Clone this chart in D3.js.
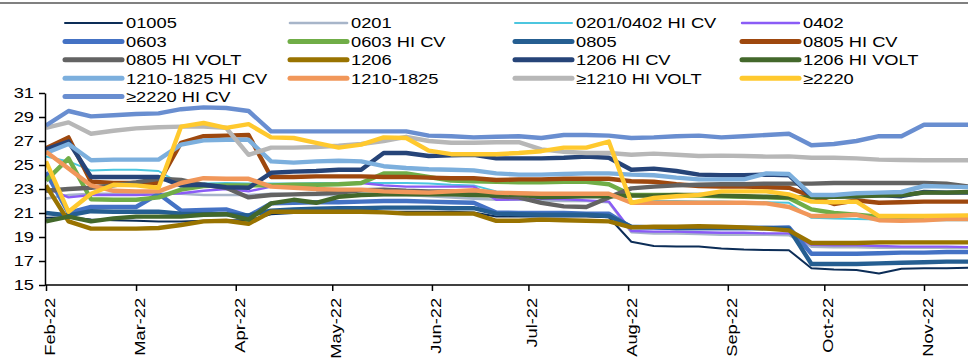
<!DOCTYPE html>
<html>
<head>
<meta charset="utf-8">
<script src="https://cdn.jsdelivr.net/npm/d3@7"></script>
<style>
  html, body { margin: 0; padding: 0; background: #fff; }
  svg { display: block; }
  text { font-family: "Liberation Sans", Arial, sans-serif; fill: #000; }
</style>
</head>
<body>
<svg id="chart" width="968" height="358"></svg>
<script>
// Weekly observation dates
const dates = [
  "2022-02-01","2022-02-08","2022-02-15","2022-02-22",
  "2022-03-01","2022-03-08","2022-03-15","2022-03-22","2022-03-29",
  "2022-04-05","2022-04-12","2022-04-19","2022-04-26",
  "2022-05-03","2022-05-10","2022-05-17","2022-05-24","2022-05-31",
  "2022-06-07","2022-06-14","2022-06-21","2022-06-28",
  "2022-07-05","2022-07-12","2022-07-19","2022-07-26",
  "2022-08-02","2022-08-09","2022-08-16","2022-08-23","2022-08-30",
  "2022-09-06","2022-09-13","2022-09-20","2022-09-27",
  "2022-10-04","2022-10-11","2022-10-18","2022-10-25",
  "2022-11-01","2022-11-08","2022-11-15"
];

// Month tick labels on the time axis
const monthTicks = ["2022-02-01","2022-03-01","2022-04-01","2022-05-01","2022-06-01",
  "2022-07-01","2022-08-01","2022-09-01","2022-10-01","2022-11-01"];

// Value axis ticks
const yTicks = [15, 17, 19, 21, 23, 25, 27, 29, 31];

// Series names, in legend order
const seriesNames = ["01005","0201","0201/0402 HI CV","0402","0603","0603 HI CV","0805","0805 HI CV",
  "0805 HI VOLT","1206","1206 HI CV","1206 HI VOLT","1210-1825 HI CV","1210-1825","≥1210 HI VOLT","≥2220","≥2220 HI CV"];

// Series values (one per week)
const s01005 = [20.6,20.65,20.45,20.4,20.35,20.3,20.3,20.35,20.4,20.4, 20.9,21.0,21.05,21.1,21.1,21.1,21.1,21.1,21.1,21.05, 20.7,20.7,20.7,20.7,20.7,20.65, 18.6,18.25,18.2,18.2,18.05,17.95,17.92,17.9, 16.4,16.3,16.25,15.95,16.35,16.4,16.4,16.45];
const s0201 = [22.2,22.5,22.6,22.6,22.6,22.6,22.6,22.5,22.5,22.5, 22.6,22.55,22.5,22.5,22.5,22.5,22.5,22.4,22.3,22.2, 22.1,22.1,22.05,22.0,22.0,21.9, 19.4,19.3,19.3,19.25,19.2,19.2,19.2,19.15, 18.2,18.15,18.15,18.1,18.1,18.1,18.1,18.1];
const s0201HiCv = [25.7,25.3,24.55,24.6,24.6,24.5,23.4,23.45,23.5,23.45, 23.45,23.45,23.5,23.5,23.5,23.5,23.5,23.45,23.35,23.3, 22.8,22.7,22.65,22.65,22.6,22.6, 22.0,22.0,22.0,21.95,21.95,21.9,21.9,21.85, 20.6,20.55,20.5,20.45,20.4,20.4,20.4,20.4];
const s0402 = [23.1,22.3,22.5,22.5,22.5,22.55,22.65,22.85,23.0,22.8, 23.2,23.3,23.35,23.4,23.5,23.3,23.2,23.2,23.2,23.2, 22.1,22.15,22.2,22.15,22.05,21.95, 19.5,19.45,19.45,19.4,19.35,19.35,19.3,19.3, 18.35,18.3,18.3,18.25,18.2,18.2,18.2,18.15];
const s0603 = [24.4,21.0,21.5,21.5,21.5,22.6,21.2,21.25,21.3,20.75, 21.8,21.85,21.9,21.9,21.95,22.0,22.0,21.95,21.9,21.85, 21.05,21.0,21.0,21.0,20.95,20.95, 19.8,19.8,19.75,19.75,19.75,19.75,19.75,19.8, 17.6,17.6,17.6,17.65,17.7,17.7,17.75,17.75];
const s0603HiCv = [23.7,25.55,22.15,22.1,22.1,22.3,22.95,23.25,23.3,23.3, 23.3,23.35,23.35,23.4,23.5,24.3,24.3,24.0,23.7,23.65, 23.6,23.55,23.55,23.6,23.6,23.4, 22.5,22.5,22.5,22.45,22.4,22.35,22.3,22.25, 21.3,21.0,20.85,20.7,20.65,20.65,20.6,20.6];
const s0805 = [21.0,20.8,21.15,21.1,21.1,21.1,20.95,20.9,20.9,20.8, 21.2,21.3,21.35,21.4,21.4,21.45,21.45,21.45,21.4,21.4, 20.95,20.9,20.85,20.85,20.85,20.75, 19.85,19.8,19.75,19.75,19.75,19.75,19.75,19.7, 16.75,16.75,16.75,16.8,16.85,16.9,16.95,16.95];
const s0805HiCv = [26.4,27.3,23.6,23.5,23.5,23.5,26.85,27.4,27.45,27.5, 24.0,24.0,24.05,24.05,24.05,24.0,24.0,23.95,23.9,23.9, 23.75,23.8,23.8,23.85,23.85,23.85, 23.65,23.6,23.4,23.25,23.2,23.2,23.15,23.1, 22.4,21.75,22.05,21.85,21.9,21.95,21.95,21.95];
const s0805HiVolt = [22.85,23.0,23.1,23.3,23.55,23.85,23.75,23.35,23.1,22.3, 22.5,22.55,22.6,22.7,22.9,22.95,22.85,22.8,22.8,22.75, 22.4,22.3,21.85,21.55,21.5,22.3, 23.05,23.2,23.3,23.35,23.4,23.4,23.45,23.45, 23.45,23.5,23.5,23.5,23.5,23.5,23.45,23.2];
const s1206 = [23.3,20.3,19.7,19.7,19.7,19.75,20.0,20.3,20.35,20.1, 21.1,21.1,21.1,21.1,21.1,21.05,20.95,20.95,20.95,20.95, 20.35,20.35,20.45,20.4,20.35,20.3, 19.8,19.85,19.85,19.9,19.85,19.8,19.7,19.55, 18.5,18.5,18.5,18.55,18.55,18.55,18.55,18.55];
const s1206HiCv = [26.3,26.95,24.0,24.0,24.0,24.0,23.3,23.35,23.15,23.1, 24.35,24.45,24.5,24.6,24.6,26.0,26.0,25.75,25.8,25.85, 25.55,25.55,25.55,25.6,25.7,25.6, 24.6,24.7,24.5,24.2,24.15,24.15,24.2,24.15, 22.4,22.4,22.4,22.5,22.4,22.75,22.7,22.7];
const s1206HiVolt = [20.3,20.7,20.3,20.55,20.7,20.7,20.7,20.85,20.9,20.45, 21.8,22.1,21.85,22.35,22.5,22.55,22.55,22.55,22.55,22.5, 22.45,22.55,22.3,22.35,22.4,22.4, 22.45,22.45,22.5,22.5,22.45,22.4,22.35,22.3, 22.3,22.35,22.4,22.45,22.5,22.7,22.7,22.75];
const s1210HiCv = [26.0,26.75,25.4,25.45,25.45,25.45,26.7,27.05,27.1,27.1, 25.3,25.2,25.3,25.35,25.3,24.9,24.75,24.65,24.6,24.55, 24.3,24.2,24.2,24.25,24.3,24.3, 24.2,24.15,23.95,23.8,23.8,23.8,24.3,24.25, 22.5,22.5,22.65,22.7,22.75,23.25,23.2,23.15];
const s1210 = [26.1,24.7,23.3,22.85,22.8,22.8,23.5,23.9,23.85,23.85, 23.2,23.1,23.0,22.95,22.95,22.8,22.75,22.7,22.8,22.9, 22.7,22.65,22.6,22.6,22.6,22.6, 21.85,21.85,21.85,21.85,21.85,21.85,21.8,21.5, 20.75,20.75,20.85,20.4,20.35,20.4,20.5,20.5];
const s1210HiVolt = [28.1,28.55,27.6,27.85,28.05,28.15,28.2,28.2,28.1,25.85, 26.45,26.45,26.5,26.6,26.75,27.0,27.35,27.0,26.85,26.85, 26.9,26.9,26.3,26.1,26.0,26.0, 25.85,25.95,25.85,25.75,25.78,25.75,25.7,25.72, 25.6,25.6,25.55,25.45,25.42,25.4,25.4,25.4];
const s2220 = [25.3,21.1,22.6,23.35,23.3,23.1,28.2,28.5,28.1,28.4, 27.3,27.25,26.85,26.45,26.7,27.3,27.25,26.2,25.9,25.9, 25.9,26.0,26.15,26.45,26.45,26.95, 21.85,22.25,22.4,22.5,22.8,22.8,22.8,22.55, 21.95,21.9,21.95,20.75,20.75,20.75,20.78,20.8];
const s2220HiCv = [28.3,29.5,29.05,29.15,29.25,29.3,29.65,29.8,29.75,29.5, 27.8,27.8,27.8,27.8,27.8,27.8,27.8,27.45,27.4,27.3, 27.35,27.4,27.25,27.5,27.5,27.45, 27.25,27.3,27.4,27.45,27.3,27.4,27.5,27.6, 26.65,26.75,27.0,27.4,27.4,28.35,28.35,28.35];

const seriesValues = [s01005, s0201, s0201HiCv, s0402, s0603, s0603HiCv, s0805, s0805HiCv,
  s0805HiVolt, s1206, s1206HiCv, s1206HiVolt, s1210HiCv, s1210, s1210HiVolt, s2220, s2220HiCv];

// Line styling per series
const colors = ["#0c2d57","#a7b5c9","#4cc6df","#8a5cf6","#4472c4","#70ad47","#255e91","#9e480e",
  "#636363","#997300","#264478","#43682b","#7cafdd","#f1975a","#b7b7b7","#ffc92e","#698ed0"];
const widths = [2, 2.6, 2, 2.4, 4.4, 4.4, 4.4, 4.4, 4.4, 4.4, 4.4, 4.4, 4.4, 4.4, 4.4, 4.4, 4.4];

const TEXT_STRETCH = 1.22;
const parse = d3.timeParse("%Y-%m-%d");
const svg = d3.select("#chart");

// Thin frame line along the top
svg.append("line").attr("x1", 0).attr("x2", 968).attr("y1", 3).attr("y2", 3)
  .attr("stroke", "#808080").attr("stroke-width", 2);

const x = d3.scaleTime()
  .domain([parse("2022-02-01"), parse("2022-11-01")])
  .range([46, 924]);
const y = d3.scaleLinear().domain([15, 31]).range([285, 93]);

// Plot area clip
svg.append("defs").append("clipPath").attr("id", "plotClip")
  .append("rect").attr("x", 45).attr("y", 60).attr("width", 923).attr("height", 240);

const line = d3.line()
  .x((d, i) => x(parse(dates[i])))
  .y(d => y(d));

const plot = svg.append("g").attr("clip-path", "url(#plotClip)");
seriesValues.forEach((vals, k) => {
  plot.append("path")
    .datum(vals)
    .attr("d", line)
    .attr("fill", "none")
    .attr("stroke", colors[k])
    .attr("stroke-width", widths[k])
    .attr("stroke-linejoin", "round")
    .attr("stroke-linecap", "butt");
});

// Y axis
const yAxis = svg.append("g").attr("transform", "translate(45,0)")
  .call(d3.axisLeft(y).tickValues(yTicks).tickSize(6).tickSizeOuter(0).tickPadding(3));
yAxis.select(".domain").attr("stroke", "#000").attr("stroke-width", 1.5);
yAxis.selectAll(".tick line").attr("stroke", "#000").attr("stroke-width", 1.5);
yAxis.selectAll(".tick text")
  .attr("font-size", 15)
  .attr("font-family", "Liberation Sans, Arial, sans-serif")
  .attr("fill", "#000")
  .attr("transform", `scale(${TEXT_STRETCH},1)`);

// X axis
const xAxis = svg.append("g").attr("transform", "translate(0,285)")
  .call(d3.axisBottom(x).tickValues(monthTicks.map(parse))
    .tickFormat(d3.timeFormat("%b-%y")).tickSize(6).tickSizeOuter(0));
xAxis.select(".domain").remove();
xAxis.append("line").attr("x1", 45).attr("x2", 968).attr("y1", 0).attr("y2", 0)
  .attr("stroke", "#000").attr("stroke-width", 1.6);
xAxis.selectAll(".tick line").attr("stroke", "#000").attr("stroke-width", 1.5);
xAxis.selectAll(".tick text")
  .attr("font-size", 15)
  .attr("font-family", "Liberation Sans, Arial, sans-serif")
  .attr("fill", "#000")
  .attr("text-anchor", "end")
  .attr("x", -10.5)
  .attr("y", 0)
  .attr("dy", "0.55em")
  .attr("transform", `rotate(-90) scale(${TEXT_STRETCH},1)`);

// Legend: four columns, rows filled left to right
const legendColLine = [65, 290, 515, 742];
const legendRowY = [23, 41.4, 59.8, 78.2, 96.6];
const legend = svg.append("g");
seriesNames.forEach((name, k) => {
  const col = k % 4, row = Math.floor(k / 4);
  const lx = legendColLine[col], ly = legendRowY[row];
  legend.append("line")
    .attr("x1", lx).attr("x2", lx + 57).attr("y1", ly).attr("y2", ly)
    .attr("stroke", colors[k])
    .attr("stroke-width", widths[k] < 3 ? widths[k] : 5)
    .attr("stroke-linecap", "round");
  legend.append("text")
    .attr("transform", `translate(${lx + 61},${ly + 5.4}) scale(${TEXT_STRETCH},1)`)
    .attr("font-size", 15)
    .text(name);
});
</script>
</body>
</html>
